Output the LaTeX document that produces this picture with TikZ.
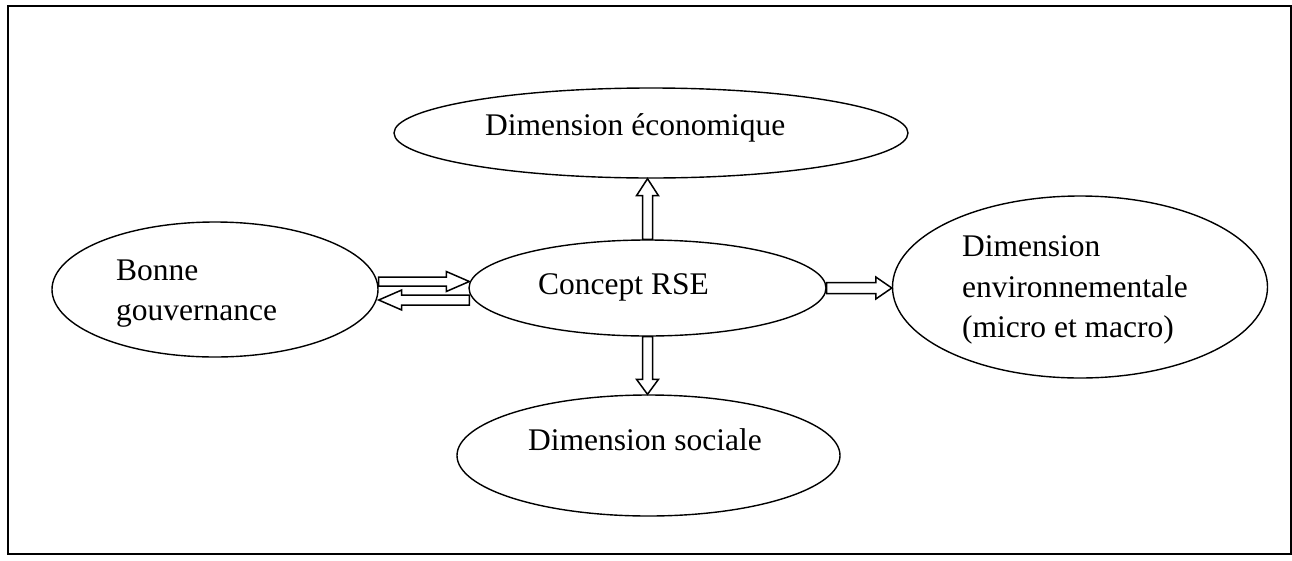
\documentclass[tikz,border=0pt]{standalone}
\usepackage{fontspec}
\setmainfont{Liberation Serif}
\usetikzlibrary{shapes.geometric,calc}
\tikzset{
  bubble/.style={draw, ellipse, line width=1.4pt, inner sep=0pt},
  txt/.style={anchor=base west, inner sep=0pt, font=\fontsize{31.5}{40}\selectfont},
  blk/.style={draw, line width=1.5pt, fill=white, line join=miter},
}
\newcommand{\blockarrow}[5]{%
  \coordinate (hb) at ($(#2)!#5!(#1)$);
  \draw[blk] ($(#1)!#3!90:(#2)$) -- ($(hb)!#3!-90:(#1)$) -- ($(hb)!#4!-90:(#1)$) -- (#2)
    -- ($(hb)!#4!90:(#1)$) -- ($(hb)!#3!90:(#1)$) -- ($(#1)!#3!-90:(#2)$) -- cycle;
}
\begin{document}
\begin{tikzpicture}[x=1pt,y=-1pt]
\useasboundingbox (0,0) rectangle (1292,560);
\draw[line width=2pt] (8,6) rectangle (1291,554);
% ellipses
\node[bubble, minimum width=514pt, minimum height=90pt] (eco) at (651,133) {};
\node[bubble, minimum width=357pt, minimum height=96pt] (rse) at (647.5,288) {};
\node[bubble, minimum width=326pt, minimum height=135pt] (bon) at (215,289.5) {};
\node[bubble, minimum width=375pt, minimum height=182pt] (env) at (1080,287) {};
\node[bubble, minimum width=383pt, minimum height=121pt] (soc) at (648.5,455.5) {};
% texts
\node[txt] (ecot) at (485,135) {Dimension économique};
\node[txt] (rset) at (538,294) {Concept RSE};
\node[txt] (bon1) at (116,280) {Bonne};
\node[txt] (bon2) at (116,320) {gouvernance};
\node[txt] (env1) at (962,256) {Dimension};
\node[txt] (env2) at (962,297) {environnementale};
\node[txt] (env3) at (962,337) {(micro et macro)};
\node[txt] (soct) at (528,450) {Dimension sociale};
% connector end points
\coordinate (t1) at (rse.north);
\coordinate (t2) at (rse.north |- eco.south);
\coordinate (b1) at (rse.south);
\coordinate (b2) at (rse.south |- soc.north);
\coordinate (r1) at (rse.east);
\coordinate (r2) at (env.west |- rse.east);
\coordinate (p1) at ($(bon.east)+(0,-8)$);
\coordinate (p2) at ($(rse.west |- p1)+(1,0)$);
\coordinate (p3) at ($(rse.west)+(1,12)$);
\coordinate (p4) at (bon.east |- p3);
% block arrows
\blockarrow{t1}{t2}{5pt}{11pt}{17pt}
\blockarrow{b1}{b2}{5pt}{11pt}{15pt}
\blockarrow{r1}{r2}{5.5pt}{11pt}{16pt}
\blockarrow{p1}{p2}{4.5pt}{10pt}{23pt}
\blockarrow{p3}{p4}{5pt}{10pt}{23pt}
\end{tikzpicture}
\end{document}
